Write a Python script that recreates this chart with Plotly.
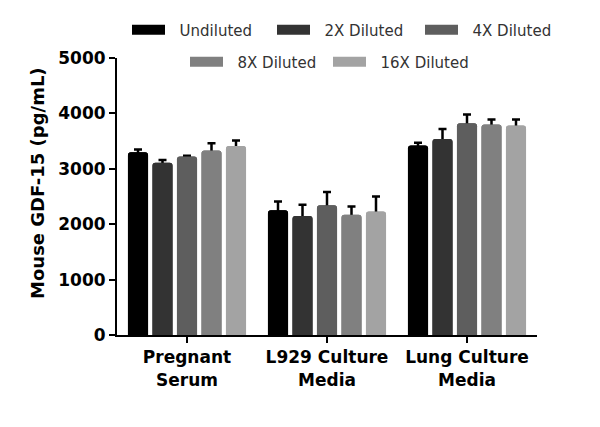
import plotly.graph_objects as go

categories = ["Pregnant<br>Serum", "L929 Culture<br>Media", "Lung Culture<br>Media"]
series_names = ["Undiluted", "2X Diluted", "4X Diluted", "8X Diluted", "16X Diluted"]
undiluted = [3300, 2250, 3420]
diluted_2x = [3110, 2150, 3540]
diluted_4x = [3220, 2340, 3820]
diluted_8x = [3330, 2170, 3800]
diluted_16x = [3410, 2230, 3780]
err_undiluted = [50, 160, 50]
err_2x = [50, 200, 180]
err_4x = [15, 240, 160]
err_8x = [130, 150, 90]
err_16x = [100, 270, 110]
y_ticks = [0, 1000, 2000, 3000, 4000, 5000]

values = [undiluted, diluted_2x, diluted_4x, diluted_8x, diluted_16x]
errors = [err_undiluted, err_2x, err_4x, err_8x, err_16x]
colors = ["#000000", "#333333", "#5e5e5e", "#808080", "#a3a3a3"]

FONT = "DejaVu Sans"
W, H = 600, 427
ML, MR, MT, MB = 117, 63, 58, 92
PW, PH = W - ML - MR, H - MT - MB
# legend entry placement (px in the page): left x, center y
legend_pos = [(127, 30), (272, 30), (420, 30), (185, 62), (328, 62)]

fig = go.Figure()

# bars carrying the error bars (lower part hidden by the overlay bars)
for i, (name, vals, errs) in enumerate(zip(series_names, values, errors)):
    fig.add_trace(go.Bar(
        x=categories, y=vals, name=name, offsetgroup=str(i),
        marker=dict(color=colors[i], line=dict(width=0), cornerradius=3),
        error_y=dict(type="data", symmetric=False, array=errs,
                     arrayminus=[100] * len(errs), color="black",
                     thickness=2.5, width=4),
        showlegend=False, hoverinfo="skip"))
# overlay bars covering the lower half of the error bars
for i, (name, vals) in enumerate(zip(series_names, values)):
    fig.add_trace(go.Bar(
        x=categories, y=vals, name=name, offsetgroup=str(i),
        marker=dict(color=colors[i], line=dict(width=0), cornerradius=3),
        showlegend=False))

legends = {}
for i, name in enumerate(series_names):
    key = "legend" if i == 0 else f"legend{i + 1}"
    fig.add_trace(go.Scatter(
        x=[None], y=[None], mode="lines", name="\u00a0\u00a0" + name,
        line=dict(color=colors[i], width=10), legend=key))
    lx, ly = legend_pos[i]
    legends[key] = dict(orientation="h", xref="paper", yref="paper",
                        x=(lx - ML) / PW, y=(H - MB - ly) / PH,
                        xanchor="left", yanchor="middle",
                        font=dict(family=FONT, size=15, color="#333333"),
                        bgcolor="rgba(0,0,0,0)", itemwidth=33)

fig.update_layout(
    width=W, height=H,
    margin=dict(l=ML, r=MR, t=MT, b=MB, autoexpand=False),
    paper_bgcolor="white", plot_bgcolor="white",
    barmode="group", bargap=0.125, bargroupgap=0.18,
    showlegend=True,
    xaxis=dict(showline=True, linecolor="black", linewidth=2,
               ticks="outside", ticklen=6, tickwidth=2, tickcolor="black",
               tickfont=dict(family=FONT, size=17, color="black", weight="bold"),
               showgrid=False, zeroline=False, range=[-0.5, 2.5]),
    yaxis=dict(showline=True, linecolor="black", linewidth=2,
               ticks="outside", ticklen=6, tickwidth=2, tickcolor="black",
               tickvals=y_ticks, ticktext=[str(v) for v in y_ticks],
               tickfont=dict(family=FONT, size=17, color="black", weight="bold"),
               showgrid=False, zeroline=False, range=[0, 5000]),
    annotations=[dict(text="Mouse GDF-15 (pg/mL)", textangle=-90,
                      xref="paper", yref="paper", x=-0.188, y=0.549,
                      xanchor="center", yanchor="middle", showarrow=False,
                      font=dict(family=FONT, size=18, color="black", weight="bold"))],
    **legends,
)

fig.write_html("out.html")
